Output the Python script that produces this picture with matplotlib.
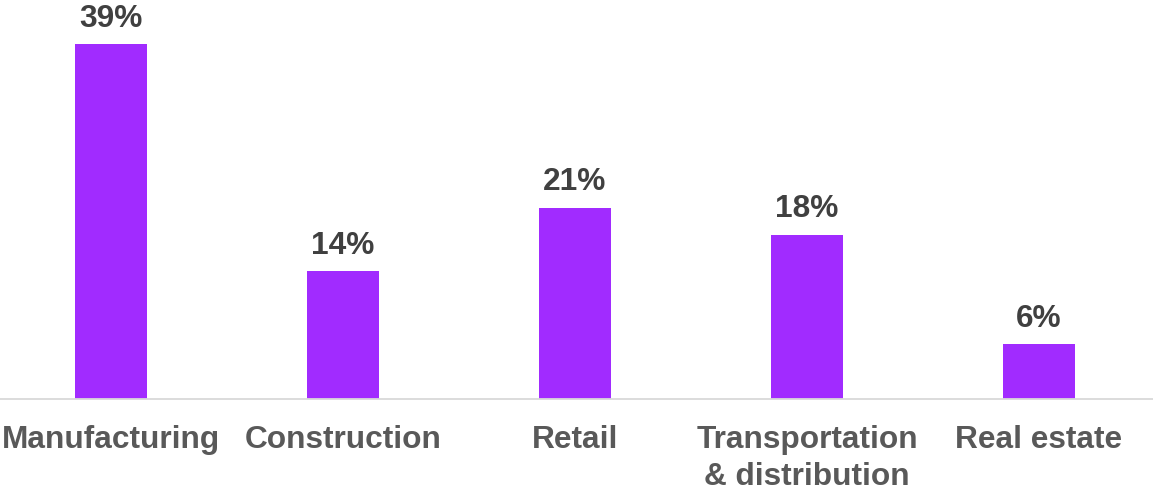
import matplotlib
matplotlib.use("Agg")
import matplotlib.pyplot as plt

categories = ["Manufacturing", "Construction", "Retail",
              "Transportation\n& distribution", "Real estate"]
shares = [39, 14, 21, 18, 6]
value_labels = ["39%", "14%", "21%", "18%", "6%"]

plt.rcParams["font.family"] = ["Liberation Sans", "DejaVu Sans"]

fig = plt.figure(figsize=(11.53, 4.90), dpi=100)
ax = fig.add_axes([0.0, 1 - 398.5 / 490, 1.0, 398.5 / 490])

x = list(range(len(categories)))
bars = ax.bar(x, shares, width=0.31, color="#A12BFF", zorder=2)

ax.set_xlim(-111 / 232, (1153 - 111) / 232)
ax.set_ylim(0, 39 * 398.5 / 354.5)

for rect, lab in zip(bars, value_labels):
    ax.annotate(lab, (rect.get_x() + rect.get_width() / 2, rect.get_height()),
                xytext=(0, 7.5), textcoords="offset points",
                ha="center", va="bottom", fontsize=22.8, fontweight="bold",
                color="#404040", annotation_clip=False)

ax.set_xticks(x)
ax.set_xticklabels(categories, fontsize=22.8, fontweight="bold",
                   color="#595959", linespacing=1.3)
ax.tick_params(axis="x", length=0, pad=19)
ax.set_yticks([])

for side in ("top", "left", "right"):
    ax.spines[side].set_visible(False)
ax.spines["bottom"].set_color("#D9D9D9")
ax.spines["bottom"].set_linewidth(1.3)

fig.savefig("out.png", dpi=100)
